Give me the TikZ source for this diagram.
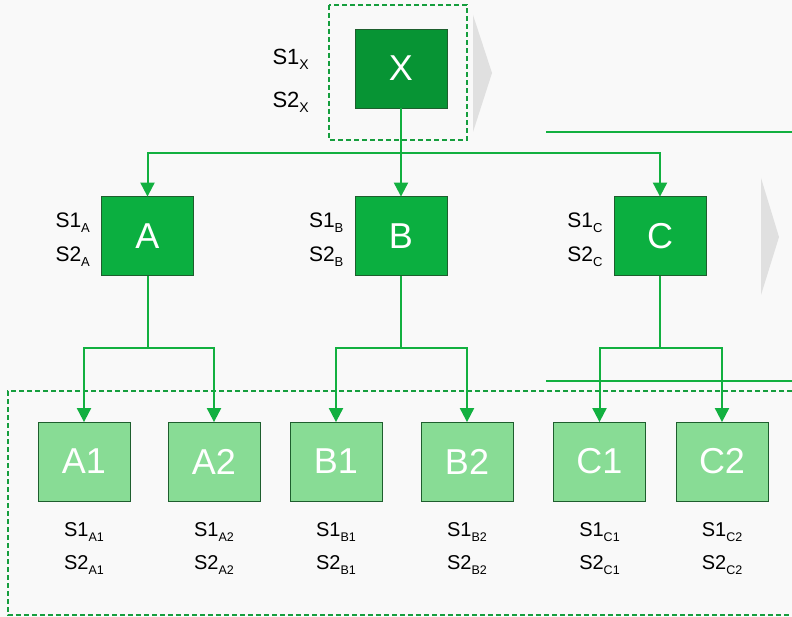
\documentclass[tikz,border=0pt]{standalone}
\usepackage{fontspec}
\setmainfont{Liberation Sans}
\usetikzlibrary{arrows.meta,calc}
\definecolor{bgcol}{HTML}{F9F9F9}
\definecolor{topfill}{HTML}{079434}
\definecolor{midfill}{HTML}{0BAF40}
\definecolor{leaffill}{HTML}{88DC95}
\definecolor{edgecol}{HTML}{1E5E2E}
\definecolor{linkcol}{HTML}{12B040}
\definecolor{framecol}{HTML}{169E3E}
\definecolor{chevcol}{HTML}{E0E0E0}
% index lowered below the baseline, size given as first argument
\newcommand{\lowidx}[2]{\raisebox{-5pt}{\fontsize{#1}{#1}\selectfont #2}}
\tikzset{
  boxbase/.style={draw=edgecol, line width=0.8pt, minimum width=92pt, minimum height=79pt,
    inner sep=0pt, text=white, font=\fontsize{36}{36}\selectfont},
  topbox/.style={boxbase, fill=topfill},
  midbox/.style={boxbase, fill=midfill},
  leafbox/.style={boxbase, fill=leaffill},
  link/.style={draw=linkcol, line width=2pt},
  arrowlink/.style={link, -{Triangle[width=14pt,length=14pt]}, shorten >=-0.5pt},
  lbl/.style={inner sep=0pt, text=black},
  groupframe/.style={draw=framecol, line width=1.3pt, dash pattern=on 5pt off 3pt},
  chevron/.style={fill=chevcol, draw=none},
}
\begin{document}
\begin{tikzpicture}[x=1pt, y=-1pt]
  \fill[bgcol] (0,0) rectangle (792,617);
  \useasboundingbox (0,0) rectangle (792,617);

  % grey chevrons
  \fill[chevron] (473,15) -- (492,73) -- (473,132) -- cycle;
  \fill[chevron] (761,178) -- (779,237) -- (761,295) -- cycle;

  % dashed frames
  \draw[groupframe] (329,5) rectangle (467,140);
  \draw[groupframe] (800,391) -- (8,391) -- (8,615) -- (800,615);

  % long horizontal rules on the right
  \coordinate (r1a) at (546,132);
  \coordinate (r1b) at (792,132);
  \coordinate (r2a) at (546,381);
  \coordinate (r2b) at (792,381);
  \draw[link] (r1a) -- (r1b);
  \draw[link] (r2a) -- (r2b);

  % boxes
  \node[topbox]  (X)  at (401,68.5) {X};
  \node[midbox]  (A)  at (147.5,236) {A};
  \node[midbox]  (B)  at (401,236) {B};
  \node[midbox]  (C)  at (660,236) {C};
  \node[leafbox] (A1) at (84,461.5) {A1};
  \node[leafbox] (A2) at (214,461.5) {A2};
  \node[leafbox] (B1) at (336,461.5) {B1};
  \node[leafbox] (B2) at (467,461.5) {B2};
  \node[leafbox] (C1) at (599.5,461.5) {C1};
  \node[leafbox] (C2) at (722,461.5) {C2};

  % connectors: X to A, B, C
  \coordinate (xj) at (401,153);
  \draw[link] (X.south) -- (xj);
  \draw[arrowlink] (xj) -| (A.north);
  \draw[arrowlink] (xj) -- (B.north);
  \draw[arrowlink] (xj) -| (C.north);

  % connectors: A, B, C to their leaves
  \coordinate (Aj) at (147.5,348);
  \coordinate (Bj) at (401,348);
  \coordinate (Cj) at (660,348);
  \foreach \p/\l/\r in {A/A1/A2, B/B1/B2, C/C1/C2}{
    \draw[link] (\p.south) -- (\p j);
    \draw[arrowlink] (\p j) -| (\l.north);
    \draw[arrowlink] (\p j) -| (\r.north);
  }

  % signal labels
  \node[lbl, anchor=base east, font=\fontsize{22}{22}\selectfont] (lx1) at (309,65) {S1\lowidx{14}{X}};
  \node[lbl, anchor=base east, font=\fontsize{22}{22}\selectfont] (lx2) at (309,108) {S2\lowidx{14}{X}};
  \foreach \n in {A,B,C}{
    \node[lbl, anchor=base east, font=\fontsize{21}{21}\selectfont] (l\n1) at ($(\n.west)+(-11,-8)$) {S1\lowidx{13}{\n}};
    \node[lbl, anchor=base east, font=\fontsize{21}{21}\selectfont] (l\n2) at ($(\n.west)+(-11,26)$) {S2\lowidx{13}{\n}};
  }
  \foreach \n in {A1,A2,B1,B2,C1,C2}{
    \node[lbl, anchor=base, font=\fontsize{20}{20}\selectfont] (l\n a) at ($(\n.south)+(0,35)$) {S1\lowidx{12.5}{\n}};
    \node[lbl, anchor=base, font=\fontsize{20}{20}\selectfont] (l\n b) at ($(\n.south)+(0,68)$) {S2\lowidx{12.5}{\n}};
  }
\end{tikzpicture}
\end{document}
